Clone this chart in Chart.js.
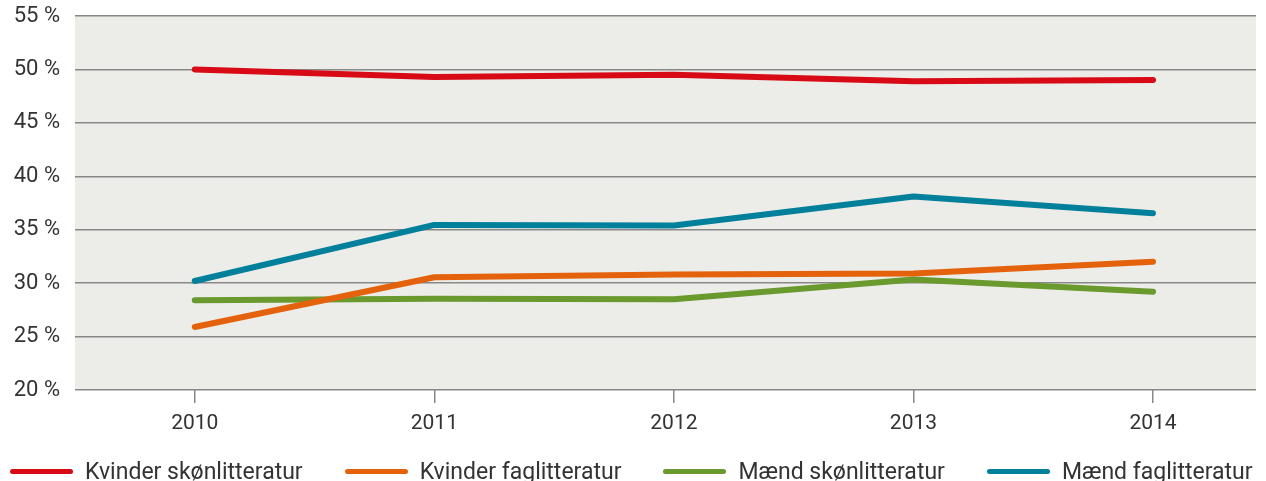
<!DOCTYPE html>
<html>
<head>
<meta charset="utf-8">
<script src="https://cdn.jsdelivr.net/npm/chart.js@4"></script>
<style>
  html, body { margin: 0; padding: 0; background: #fff; }
  #wrap { position: relative; width: 1266px; height: 481px; }
  #legend {
    position: absolute; left: 10px; top: 458px;
    display: flex; gap: 42px; margin: 0; padding: 0; list-style: none;
    font-family: Roboto, sans-serif; font-size: 23px; color: #333;
  }
  #legend li { display: flex; align-items: center; gap: 12px; white-space: nowrap; }
  #legend .swatch { display: inline-block; width: 63px; height: 5px; border-radius: 2.5px; }
</style>
</head>
<body>
<div id="wrap"><canvas id="line-chart"></canvas><ul id="legend"></ul></div>
<script>
const years = [2010, 2011, 2012, 2013, 2014];
const yTicks = [20, 25, 30, 35, 40, 45, 50, 55];
const seriesNames = ["Kvinder skønlitteratur", "Kvinder faglitteratur", "Mænd skønlitteratur", "Mænd faglitteratur"];
const kvinderSkon = [50.0, 49.3, 49.5, 48.9, 49.0];
const kvinderFag = [25.9, 30.55, 30.8, 30.9, 32.0];
const maendSkon = [28.4, 28.55, 28.5, 30.35, 29.2];
const maendFag = [30.2, 35.45, 35.4, 38.1, 36.55];
const colors = ["#d80a16", "#e4620b", "#6a9a2e", "#00809a"];

const FONT = "Roboto";
const TEXT = "#333333";

// grey plot background
const plotBg = {
    id: 'plotBg',
    beforeDraw(chart) {
        const {ctx, chartArea: a} = chart;
        ctx.save();
        ctx.fillStyle = "#ececE8";
        ctx.fillRect(a.left, a.top, a.right - a.left, a.bottom - a.top);
        ctx.restore();
    }
};

// legend as a row of html items under the canvas
const htmlLegend = {
    id: 'htmlLegend',
    afterUpdate(chart) {
        const ul = document.getElementById('legend');
        ul.innerHTML = '';
        chart.options.plugins.legend.labels.generateLabels(chart).forEach(item => {
            const li = document.createElement('li');
            const sw = document.createElement('span');
            sw.className = 'swatch';
            sw.style.background = item.strokeStyle;
            li.appendChild(sw);
            li.appendChild(document.createTextNode(item.text));
            ul.appendChild(li);
        });
    }
};

const toPoints = vals => vals.map((v, i) => ({x: years[i], y: v}));

new Chart(document.getElementById("line-chart"), {
    type: 'line',
    data: {
        datasets: [kvinderSkon, kvinderFag, maendSkon, maendFag].map((vals, i) => ({
            label: seriesNames[i],
            data: toPoints(vals),
            borderColor: colors[i],
            backgroundColor: colors[i],
            borderWidth: 6,
            borderCapStyle: 'round',
            borderJoinStyle: 'round',
            pointRadius: 0,
            tension: 0
        }))
    },
    plugins: [plotBg, htmlLegend],
    options: {
        responsive: true,
        maintainAspectRatio: false,
        animation: false,
        layout: {padding: {top: 16, right: 10, left: 0, bottom: 37}},
        scales: {
            x: {
                type: 'linear',
                min: 2009.5,
                max: 2014.43,
                afterBuildTicks: s => { s.ticks = years.map(v => ({value: v})); },
                afterFit: s => { s.height = 54; s.paddingLeft = 0; s.paddingRight = 0; },
                border: {display: false},
                grid: {drawOnChartArea: false, drawTicks: true, tickLength: 13, color: "#888", lineWidth: 1.5},
                ticks: {
                    padding: 8,
                    color: TEXT,
                    font: {family: FONT, size: 21},
                    callback: v => String(v)
                }
            },
            y: {
                min: 20,
                max: 55,
                afterBuildTicks: s => { s.ticks = yTicks.map(v => ({value: v})); },
                afterFit: s => { s.width = 75; s.paddingTop = 0; s.paddingBottom = 0; },
                border: {display: false},
                grid: {drawTicks: false, color: "#888", lineWidth: 1.5},
                ticks: {
                    padding: 15,
                    color: TEXT,
                    font: {family: FONT, size: 22},
                    callback: v => v + " %"
                }
            }
        },
        plugins: {
            tooltip: {enabled: false},
            legend: {display: false}
        }
    }
});
</script>
</body>
</html>
